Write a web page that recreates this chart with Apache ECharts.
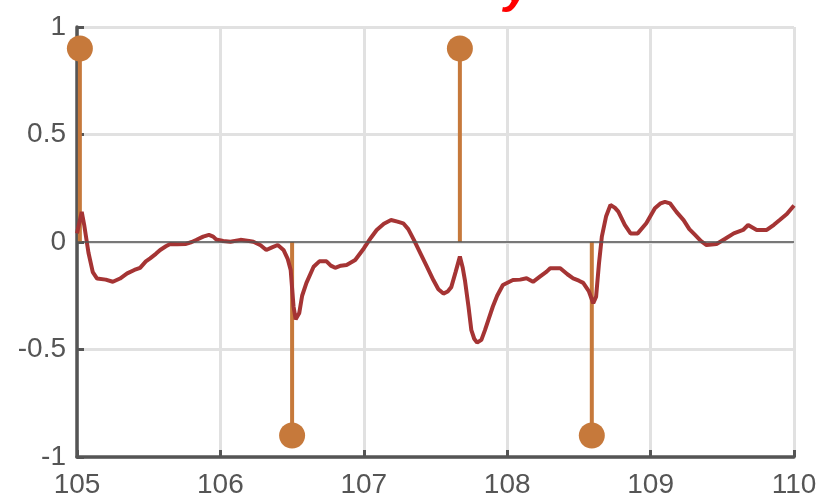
<!DOCTYPE html>
<html>
<head>
<meta charset="utf-8">
<script src="https://cdn.jsdelivr.net/npm/echarts@6/dist/echarts.min.js"></script>
<style>
  html, body { margin: 0; padding: 0; background: #fff; }
  #chart { width: 822px; height: 494px; }
</style>
</head>
<body>
<div id="chart"></div>
<script>
// Signal trace
const signalX = [105.00,105.033,105.05,105.08,105.11,105.14,105.2,105.25,105.3,105.35,105.4,105.44,105.48,105.51,105.55,105.58,105.62,105.65,105.7,105.76,105.8,105.83,105.88,105.92,105.95,105.97,106.02,106.07,106.14,106.2,106.23,106.28,106.32,106.36,106.40,106.44,106.47,106.49,106.51,106.525,106.55,106.57,106.60,106.65,106.69,106.74,106.77,106.80,106.84,106.88,106.94,107.0,107.05,107.09,107.14,107.19,107.235,107.275,107.31,107.35,107.4,107.44,107.485,107.52,107.555,107.585,107.61,107.64,107.67,107.69,107.705,107.73,107.75,107.77,107.79,107.82,107.845,107.87,107.90,107.93,107.97,108.04,108.09,108.135,108.18,108.23,108.275,108.30,108.345,108.37,108.42,108.46,108.5,108.53,108.57,108.60,108.62,108.64,108.66,108.69,108.72,108.75,108.775,108.82,108.86,108.91,108.97,109.03,109.07,109.10,109.135,109.18,109.23,109.27,109.31,109.35,109.39,109.46,109.52,109.58,109.645,109.68,109.74,109.81,109.86,109.90,109.95,110.0];
const signalY = [0.04,0.14,0.08,-0.05,-0.14,-0.17,-0.175,-0.185,-0.17,-0.146,-0.13,-0.12,-0.09,-0.076,-0.055,-0.037,-0.02,-0.009,-0.01,-0.009,0.0,0.009,0.025,0.033,0.025,0.012,0.005,0.001,0.01,0.005,0.001,-0.015,-0.037,-0.025,-0.014,-0.037,-0.08,-0.13,-0.3,-0.36,-0.33,-0.25,-0.19,-0.115,-0.09,-0.09,-0.11,-0.12,-0.11,-0.107,-0.084,-0.03,0.02,0.056,0.085,0.102,0.095,0.087,0.06,0.009,-0.06,-0.115,-0.177,-0.22,-0.24,-0.23,-0.21,-0.14,-0.068,-0.12,-0.177,-0.3,-0.41,-0.45,-0.468,-0.455,-0.41,-0.36,-0.30,-0.25,-0.2,-0.177,-0.175,-0.169,-0.185,-0.16,-0.138,-0.122,-0.122,-0.122,-0.15,-0.169,-0.18,-0.19,-0.23,-0.285,-0.254,-0.1,0.025,0.12,0.172,0.16,0.141,0.08,0.04,0.04,0.087,0.157,0.18,0.187,0.18,0.14,0.102,0.06,0.033,0.005,-0.014,-0.009,0.015,0.04,0.056,0.079,0.056,0.056,0.08,0.102,0.13,0.17];

// Event stems
const stemX = [105.02, 106.5, 107.67, 108.59];
const stemY = [0.9, -0.9, 0.9, -0.9];

// Axis ticks
const xTicks = [105, 106, 107, 108, 109, 110];
const yTicks = [-1, -0.5, 0, 0.5, 1];

const AXIS = '#555555';
const GRID = '#e1e1e1';
const STEM = '#c6793b';
const LINE = '#a53434';
const FONT = '"Liberation Sans", Arial, sans-serif';

const chart = echarts.init(document.getElementById('chart'), null, { renderer: 'canvas' });

const option = {
  animation: false,
  backgroundColor: '#ffffff',
  graphic: [{
    type: 'text',
    left: 504,
    top: -35,
    z: 100,
    style: {
      text: 'y',
      fill: '#ff0000',
      font: 'italic bold 48px ' + FONT
    }
  }],
  grid: { left: 77, right: 28, top: 27, bottom: 37, containLabel: false, outerBoundsMode: 'none' },
  xAxis: {
    type: 'value',
    min: 105, max: 110, interval: 1,
    axisLine: { show: true, onZero: false, lineStyle: { color: AXIS, width: 3.5 } },
    axisTick: { show: true, inside: true, length: 7, lineStyle: { color: AXIS, width: 3 } },
    splitLine: { show: true, lineStyle: { color: GRID, width: 3 } },
    axisLabel: {
      color: '#555555', fontSize: 28, fontFamily: FONT, margin: 14,
      formatter: v => (xTicks.indexOf(v) >= 0 ? String(v) : '')
    }
  },
  yAxis: {
    type: 'value',
    min: -1, max: 1, interval: 0.5,
    axisLine: { show: true, onZero: false, lineStyle: { color: AXIS, width: 3.5 } },
    axisTick: { show: true, inside: true, length: 7, lineStyle: { color: AXIS, width: 3 } },
    splitLine: { show: true, lineStyle: { color: GRID, width: 3 } },
    axisLabel: {
      color: '#555555', fontSize: 28, fontFamily: FONT, margin: 11,
      formatter: v => (yTicks.indexOf(v) >= 0 ? String(v) : '')
    }
  },
  series: [
    {
      type: 'custom',
      z: 2,
      data: stemX.map((x, i) => [x, stemY[i]]),
      renderItem: function (params, api) {
        const base = api.coord([api.value(0), 0]);
        const tip = api.coord([api.value(0), api.value(1)]);
        return {
          type: 'group',
          children: [
            { type: 'line', shape: { x1: base[0], y1: base[1], x2: tip[0], y2: tip[1] },
              style: { stroke: STEM, lineWidth: 4 } },
            { type: 'circle', shape: { cx: tip[0], cy: tip[1], r: 13 },
              style: { fill: STEM } }
          ]
        };
      }
    },
    {
      type: 'line',
      z: 3,
      data: signalX.map((x, i) => [x, signalY[i]]),
      showSymbol: false,
      lineStyle: { color: LINE, width: 4 },
      markLine: {
        silent: true,
        symbol: 'none',
        label: { show: false },
        lineStyle: { color: '#555555', width: 1.5, type: 'solid' },
        data: [{ yAxis: 0 }]
      }
    }
  ]
};

chart.setOption(option);
</script>
</body>
</html>
